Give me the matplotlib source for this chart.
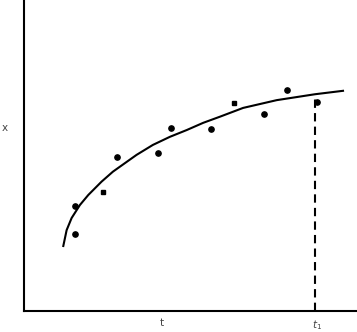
import numpy as np
import matplotlib.pyplot as plt

# observed points (t, x)
obs_t = [1.53, 1.53, 2.37, 2.79, 4.02, 4.41, 5.62, 6.31, 7.21, 7.90, 8.80]
obs_x = [3.38, 2.48, 3.83, 4.95, 5.08, 5.88, 5.85, 6.69, 6.33, 7.11, 6.72]
obs_marker = ['o', 'o', 's', 'o', 'o', 'o', 'o', 's', 'o', 'o', 'o']

# fitted curve
curve_t = [1.18, 1.28, 1.43, 1.68, 1.93, 2.33, 2.67, 2.88, 3.38, 3.87,
           4.38, 4.89, 5.38, 5.89, 6.58, 7.59, 8.74, 9.58]
curve_x = [2.09, 2.60, 2.99, 3.41, 3.73, 4.16, 4.48, 4.64, 5.02, 5.34,
           5.60, 5.82, 6.05, 6.25, 6.53, 6.78, 6.97, 7.08]

t1 = 8.74
x_at_t1 = 6.97
tick_pos = [4.14, 8.80]
tick_labels = ["t", "$t_1$"]

fig = plt.figure(figsize=(3.57, 3.32), dpi=100)
ax = fig.add_axes([24 / 357, 21 / 332, 333 / 357, 311 / 332])

ax.plot(curve_t, curve_x, color="black", linewidth=1.5,
        solid_joinstyle="round")
for t, x, m in zip(obs_t, obs_x, obs_marker):
    ax.plot(t, x, marker=m, color="black", markersize=3.8 if m == 'o' else 3.3,
            linestyle="none")
ax.plot([t1, t1], [0, x_at_t1], color="black", linewidth=1.5,
        linestyle=(0, (4, 2.5)))

ax.set_xlim(0, 10)
ax.set_ylim(0, 10)
ax.spines["top"].set_visible(False)
ax.spines["right"].set_visible(False)
ax.spines["left"].set_linewidth(1.5)
ax.spines["bottom"].set_linewidth(1.5)

ax.set_xticks(tick_pos)
ax.set_xticklabels(tick_labels, fontsize=7.5, color="#444444")
ax.tick_params(axis="x", length=0, pad=5)
ax.set_yticks([])
ax.text(-19 / 333 * 10, 5.88, "x", fontsize=7.5, color="#444444",
        ha="center", va="center")

fig.savefig("out.png", dpi=100)
